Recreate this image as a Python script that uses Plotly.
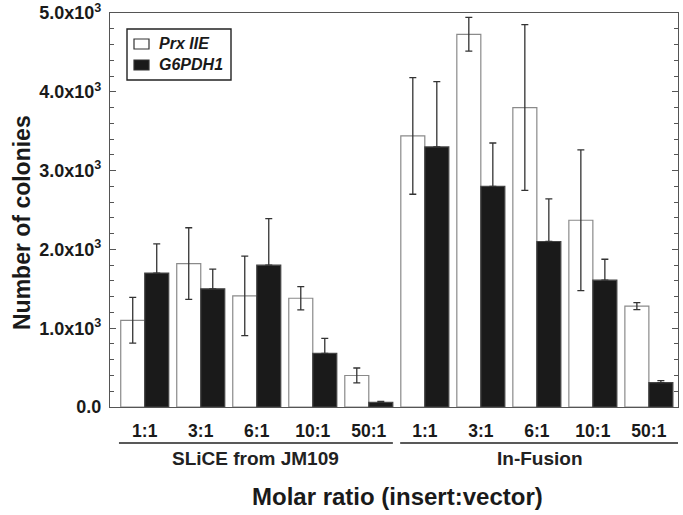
import plotly.graph_objects as go

ratios = ["1:1", "3:1", "6:1", "10:1", "50:1"]
groups = ["SLiCE from JM109", "In-Fusion"]
tick_labels = ratios + ratios
series_names = ["Prx IIE", "G6PDH1"]

prx_vals = [1100, 1820, 1410, 1380, 400, 3440, 4730, 3800, 2370, 1280]
prx_err = [290, 455, 505, 148, 95, 740, 215, 1052, 893, 45]
g6_vals = [1700, 1500, 1800, 680, 60, 3300, 2800, 2100, 1610, 310]
g6_err = [370, 250, 590, 190, 10, 830, 550, 540, 265, 25]

y_tickvals = [0, 1000, 2000, 3000, 4000, 5000]
y_ticktext = ["0.0", "1.0x10<sup>3</sup>", "2.0x10<sup>3</sup>", "3.0x10<sup>3</sup>",
              "4.0x10<sup>3</sup>", "5.0x10<sup>3</sup>"]

FONT = "Liberation Sans, Arial, sans-serif"
xpos = list(range(len(tick_labels)))
fill_colors = ["white", "#1a1a1a"]
edge_colors = ["#8a8a8a", "#444444"]

W, H = 683, 515

fig = go.Figure()
fig.add_trace(go.Bar(
    x=xpos, y=prx_vals, name=series_names[0],
    marker=dict(color=fill_colors[0], line=dict(color=edge_colors[0], width=1.2)),
    error_y=dict(type="data", array=prx_err, color="#333333", thickness=1.3, width=3.5),
))
fig.add_trace(go.Bar(
    x=xpos, y=g6_vals, name=series_names[1],
    marker=dict(color=fill_colors[1], line=dict(color=edge_colors[1], width=1.2)),
    error_y=dict(type="data", symmetric=False, array=g6_err, arrayminus=[0] * len(g6_err),
                 color="#333333", thickness=1.3, width=3.5),
))

fig.update_layout(
    width=W, height=H,
    margin=dict(l=110, r=5, t=13, b=H - 407, autoexpand=False),
    barmode="group", bargap=0.143, bargroupgap=0,
    plot_bgcolor="white", paper_bgcolor="white",
    font=dict(family=FONT, color="#1a1a1a"),
    showlegend=False,
    xaxis=dict(range=[-0.62, 9.52], tickvals=xpos, ticktext=["<b>%s</b>" % t for t in tick_labels],
               tickfont=dict(size=17.5, family=FONT), ticks="", showline=True, automargin=False,
               linecolor="#555555", linewidth=1.3, mirror=True, showgrid=False, zeroline=False,
               ticklabelstandoff=8),
    yaxis=dict(range=[0, 5000], tickvals=y_tickvals, ticktext=["<b>%s</b>" % t for t in y_ticktext],
               tickfont=dict(size=18, family=FONT), ticks="inside", ticklen=6, tickwidth=1.2,
               tickcolor="#555555", showline=True, linecolor="#555555", linewidth=1.3,
               mirror="ticks", showgrid=False, zeroline=False, automargin=False,
               ticklabelstandoff=4,
               minor=dict(ticks="inside", dtick=200, ticklen=4, tickwidth=1, tickcolor="#555555",
                          showgrid=False)),
)

# helpers: page-pixel positions -> paper fractions of the plot area
def px_x(p):
    return (p - 110) / 568.0

def px_y(p):
    return (407 - p) / 394.0

# Legend drawn as a framed box
fig.add_shape(type="rect", xref="paper", yref="paper", x0=px_x(127), x1=px_x(231),
              y0=px_y(80), y1=px_y(29), line=dict(color="#222222", width=1.4), fillcolor="white")
for i, nm in enumerate(series_names):
    cy = 44 + i * 21
    fig.add_shape(type="rect", xref="paper", yref="paper", x0=px_x(134), x1=px_x(149),
                  y0=px_y(cy + 5), y1=px_y(cy - 5),
                  line=dict(color="#333333", width=1.2), fillcolor=fill_colors[i])
    fig.add_annotation(x=px_x(157), y=px_y(cy), xref="paper", yref="paper", xanchor="left",
                       yanchor="middle", text="<b><i>%s</i></b>" % nm, showarrow=False,
                       font=dict(size=16, family=FONT, color="#1a1a1a"))

line_y = px_y(443)
fig.add_shape(type="line", xref="x", yref="paper", x0=-0.46, x1=4.43, y0=line_y, y1=line_y,
              line=dict(color="#222222", width=1.6))
fig.add_shape(type="line", xref="x", yref="paper", x0=4.56, x1=9.52, y0=line_y, y1=line_y,
              line=dict(color="#222222", width=1.6))
fig.add_annotation(x=(-0.46 + 4.43) / 2, y=px_y(458), xref="x", yref="paper",
                   text="<b>%s</b>" % groups[0], showarrow=False, xanchor="center", yanchor="middle",
                   font=dict(size=19, family=FONT, color="#222222"))
fig.add_annotation(x=(4.56 + 9.52) / 2, y=px_y(458), xref="x", yref="paper",
                   text="<b>%s</b>" % groups[1], showarrow=False, xanchor="center", yanchor="middle",
                   font=dict(size=19, family=FONT, color="#222222"))
fig.add_annotation(x=px_x(397), y=px_y(497), xref="paper", yref="paper",
                   text="<b>Molar ratio (insert:vector)</b>", showarrow=False,
                   xanchor="center", yanchor="middle",
                   font=dict(size=24, family=FONT, color="#1a1a1a"))
fig.add_annotation(x=px_x(22), y=px_y(223), xref="paper", yref="paper", textangle=-90,
                   text="<b>Number of colonies</b>", showarrow=False,
                   xanchor="center", yanchor="middle",
                   font=dict(size=23, family=FONT, color="#1a1a1a"))

fig.write_html("out.html", config={"displayModeBar": False},
               post_script="document.body.style.margin='0';document.body.style.overflow='hidden';")
